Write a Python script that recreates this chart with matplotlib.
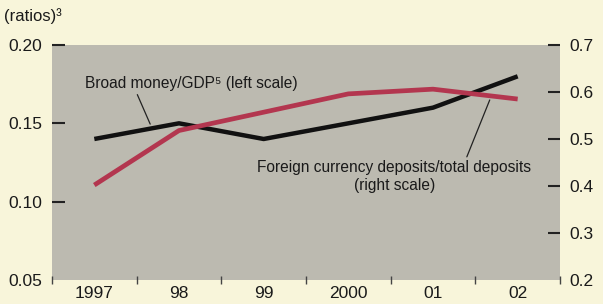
import matplotlib
matplotlib.use('Agg')
import matplotlib.pyplot as plt
import numpy as np

plt.rcParams['font.family'] = ['Liberation Sans Narrow', 'Liberation Sans', 'DejaVu Sans']

years = ['1997', '98', '99', '2000', '01', '02']
broad_money = [0.140, 0.150, 0.140, 0.150, 0.160, 0.180]      # left scale
fx_deposits = [0.402, 0.518, 0.557, 0.596, 0.606, 0.585]      # right scale

bg = '#F8F5DA'
plot_bg = '#BCBAB0'
red = '#B3364F'

fig = plt.figure(figsize=(6.03, 3.04), dpi=100, facecolor=bg)
ax = fig.add_axes([0.0862, 0.079, 0.8425, 0.773])
ax.set_facecolor(plot_bg)
ax2 = ax.twinx()

x = np.arange(len(years))
ax.plot(x, broad_money, color='#111111', lw=3.2, solid_capstyle='butt', zorder=3)
ax2.plot(x, fx_deposits, color=red, lw=3.4, solid_capstyle='butt', zorder=2)

ax.set_xlim(-0.5, len(years) - 0.5)
ax.set_ylim(0.05, 0.20)
ax2.set_ylim(0.2, 0.7)

ax.set_yticks([0.05, 0.10, 0.15, 0.20])
ax.set_yticklabels(['0.05', '0.10', '0.15', '0.20'])
ax2.set_yticks([0.2, 0.3, 0.4, 0.5, 0.6, 0.7])
ax2.set_yticklabels(['0.2', '0.3', '0.4', '0.5', '0.6', '0.7'])

# year boundaries get the ticks, labels sit in the middle
ax.set_xticks(np.arange(-0.5, len(years)), minor=False)
ax.set_xticklabels([''] * (len(years) + 1))
ax.set_xticks(x, minor=True)
ax.set_xticklabels(years, minor=True)
ax.tick_params(axis='x', which='major', direction='inout', length=6, width=1, color='#444444')
ax.tick_params(axis='x', which='minor', length=0, pad=4, labelsize=12.5, colors='#1a1a1a')

ax.tick_params(axis='y', direction='in', length=9, width=1.5, color='#222222',
               pad=7, labelsize=12.5, labelcolor='#1a1a1a')
ax2.tick_params(axis='y', direction='in', length=9, width=1.5, color='#222222',
                pad=7, labelsize=12.5, labelcolor='#1a1a1a')
# no dash at the bottom value on either side
ax.yaxis.get_major_ticks()[0].tick1line.set_visible(False)
ax2.yaxis.get_major_ticks()[0].tick2line.set_visible(False)

for a in (ax, ax2):
    for s in a.spines.values():
        s.set_visible(False)

ax.annotate('Broad money/GDP\u2075 (left scale)', xy=(0.66, 0.1495), xytext=(1.14, 0.1757),
            fontsize=11.2, color='#1a1a1a', ha='center', va='center',
            arrowprops=dict(arrowstyle='-', color='#222222', lw=0.9, shrinkA=1, shrinkB=0,
                            relpos=(0.24, 0.0)))
ax2.annotate('Foreign currency deposits/total deposits\n(right scale)',
             xy=(4.67, 0.583), xytext=(3.545, 0.421),
             fontsize=11.2, color='#1a1a1a', ha='center', va='center', linespacing=1.25,
             arrowprops=dict(arrowstyle='-', color='#222222', lw=0.9, shrinkA=0, shrinkB=0,
                             relpos=(0.76, 1.0)))

fig.text(0.006, 0.948, '(ratios)\u00b3', fontsize=12, color='#1a1a1a', ha='left', va='center')

fig.savefig('out.png', dpi=100, facecolor=bg)
